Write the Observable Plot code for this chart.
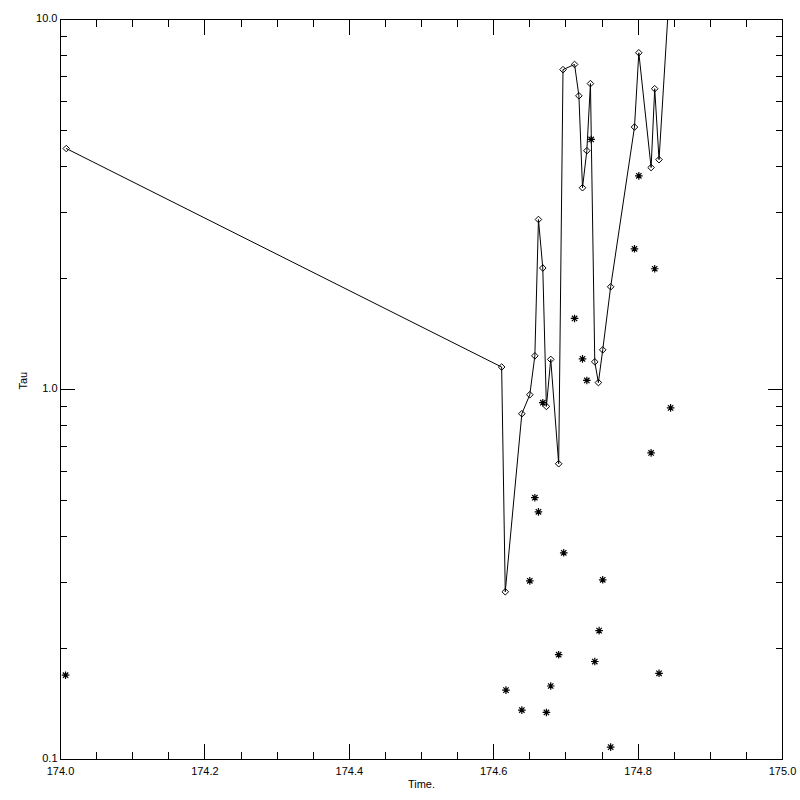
<!DOCTYPE html>
<html>
<head>
<meta charset="utf-8">
<script src="https://cdn.jsdelivr.net/npm/d3@7"></script>
<script src="https://cdn.jsdelivr.net/npm/@observablehq/plot@0.6"></script>
<style>
  body { margin: 0; background: #fff; }
  #chart svg { display: block; }
  #chart [aria-label="frame"], #chart [aria-label$="tick"] { shape-rendering: crispEdges; }
</style>
</head>
<body>
<div id="chart"></div>
<script>
// Line series (diamonds)
const lineTime = [174.008, 174.611, 174.616, 174.639, 174.650, 174.657, 174.662, 174.668, 174.673, 174.679,
  174.690, 174.696, 174.712, 174.718, 174.723, 174.729, 174.734, 174.740, 174.745, 174.751,
  174.762, 174.795, 174.801, 174.818, 174.823, 174.829, 174.845];
const lineTau = [4.48, 1.15, 0.284, 0.86, 0.968, 1.233, 2.88, 2.13, 0.90, 1.206,
  0.630, 7.32, 7.56, 6.22, 3.51, 4.42, 6.71, 1.188, 1.044, 1.28,
  1.895, 5.12, 8.13, 3.98, 6.50, 4.18, 13.5];

// Asterisk series
const starTime = [174.007, 174.617, 174.639, 174.650, 174.657, 174.662, 174.668, 174.673, 174.679, 174.690,
  174.697, 174.712, 174.723, 174.729, 174.735, 174.740, 174.746, 174.751, 174.762, 174.795,
  174.801, 174.818, 174.823, 174.829, 174.845];
const starTau = [0.169, 0.154, 0.136, 0.304, 0.510, 0.467, 0.921, 0.134, 0.158, 0.192,
  0.362, 1.556, 1.210, 1.058, 4.74, 0.184, 0.223, 0.306, 0.108, 2.40,
  3.78, 0.674, 2.12, 0.171, 0.892];

// Axis ticks and labels
const xMajor = [174.0, 174.2, 174.4, 174.6, 174.8, 175.0];
const xLabels = ["174.0", "174.2", "174.4", "174.6", "174.8", "175.0"];
const xMinor = [174.05, 174.1, 174.15, 174.25, 174.3, 174.35, 174.45, 174.5, 174.55,
  174.65, 174.7, 174.75, 174.85, 174.9, 174.95];
const yMajor = [0.1, 1, 10];
const yLabels = ["0.1", "1.0", "10.0"];
const yMinor = [0.2, 0.3, 0.4, 0.5, 0.6, 0.7, 0.8, 0.9, 2, 3, 4, 5, 6, 7, 8, 9];
const xTitle = "Time.";
const yTitle = "Tau";

const lineData = lineTime.map((t, i) => ({t, v: lineTau[i]}));
const starData = starTime.map((t, i) => ({t, v: starTau[i]}));

const asteriskSym = {
  draw(ctx, size) {
    const r = Math.sqrt(size / Math.PI), d = r * Math.SQRT1_2;
    ctx.moveTo(-r, 0); ctx.lineTo(r, 0);
    ctx.moveTo(0, -r); ctx.lineTo(0, r);
    ctx.moveTo(-d, -d); ctx.lineTo(d, d);
    ctx.moveTo(-d, d); ctx.lineTo(d, -d);
  }
};
const diamondSym = {
  draw(ctx, size) {
    const r = Math.sqrt(size / Math.PI);
    ctx.moveTo(0, -r); ctx.lineTo(r, 0); ctx.lineTo(0, r); ctx.lineTo(-r, 0); ctx.closePath();
  }
};

const blank = () => "";
const font = "Liberation Sans, Arial, sans-serif";

const chart = Plot.plot({
  width: 800,
  height: 800,
  marginLeft: 60,
  marginRight: 18,
  marginTop: 19,
  marginBottom: 41,
  style: {fontFamily: font, fontSize: "11px", color: "black", background: "white"},
  x: {domain: [174, 175]},
  y: {type: "log", domain: [0.1, 10]},
  marks: [
    // bottom / top x ticks (inward)
    Plot.axisX(xMajor, {anchor: "bottom", tickSize: -15, tickFormat: blank, label: null, stroke: "black"}),
    Plot.axisX(xMinor, {anchor: "bottom", tickSize: -7, tickFormat: blank, label: null, stroke: "black"}),
    Plot.axisX(xMajor, {anchor: "top", tickSize: -15, tickFormat: blank, label: null, stroke: "black"}),
    Plot.axisX(xMinor, {anchor: "top", tickSize: -7, tickFormat: blank, label: null, stroke: "black"}),
    Plot.axisX(xMajor, {anchor: "bottom", tickSize: 0, tickPadding: 8, tickFormat: d => xLabels[xMajor.indexOf(d)], label: null, fill: "black"}),
    // left / right y ticks (inward)
    Plot.axisY(yMajor, {anchor: "left", tickSize: -15, tickFormat: blank, label: null, stroke: "black"}),
    Plot.axisY(yMinor, {anchor: "left", tickSize: -7, tickFormat: blank, label: null, stroke: "black"}),
    Plot.axisY(yMajor, {anchor: "right", tickSize: -15, tickFormat: blank, label: null, stroke: "black"}),
    Plot.axisY(yMinor, {anchor: "right", tickSize: -7, tickFormat: blank, label: null, stroke: "black"}),
    Plot.axisY(yMajor, {anchor: "left", tickSize: 0, tickPadding: 3, dy: -1, tickFormat: d => yLabels[yMajor.indexOf(d)], label: null, fill: "black"}),
    Plot.frame({stroke: "black"}),
    Plot.line(lineData, {x: "t", y: "v", stroke: "black", strokeWidth: 1, clip: true}),
    Plot.dot(lineData, {x: "t", y: "v", symbol: diamondSym, r: 3.3, stroke: "black", fill: "none", strokeWidth: 1, clip: true}),
    Plot.dot(starData, {x: "t", y: "v", symbol: asteriskSym, r: 3.8, stroke: "black", strokeWidth: 1.2, clip: true}),
    Plot.text([xTitle], {frameAnchor: "bottom", dy: 28, text: d => d, fill: "black", fontSize: 11}),
    Plot.text([yTitle], {frameAnchor: "left", dx: -37, rotate: -90, text: d => d, fill: "black", fontSize: 11})
  ]
});
document.getElementById("chart").appendChild(chart);
</script>
</body>
</html>
